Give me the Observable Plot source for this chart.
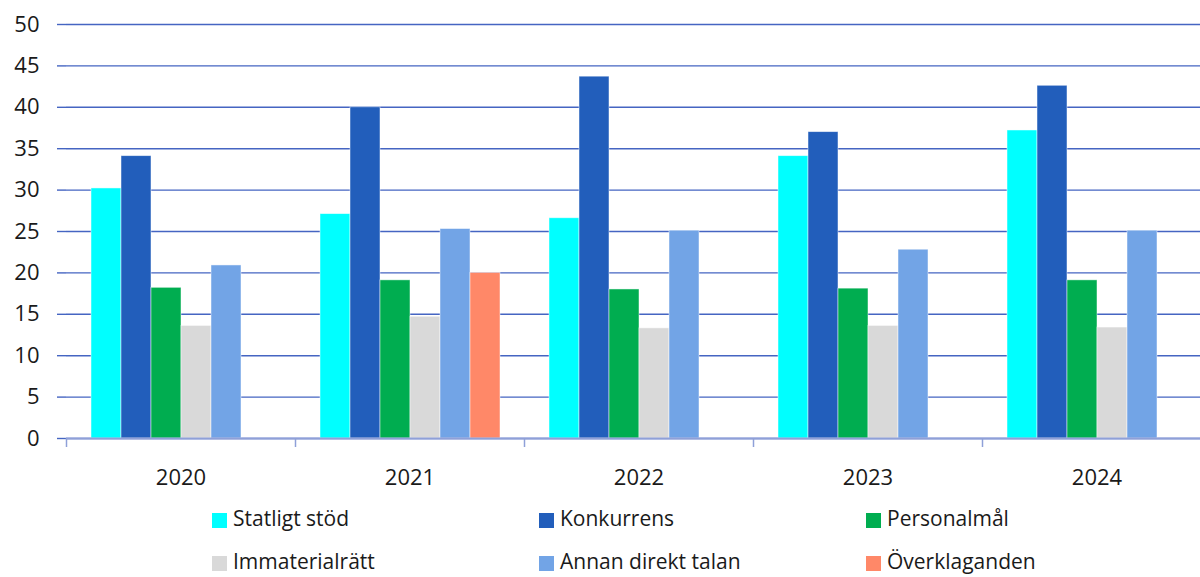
<!DOCTYPE html>
<html>
<head>
<meta charset="utf-8">
<script src="https://cdn.jsdelivr.net/npm/d3@7"></script>
<script src="https://cdn.jsdelivr.net/npm/@observablehq/plot@0.6"></script>
<style>
  html, body { margin: 0; padding: 0; background: #fff; overflow: hidden; width: 1200px; }
  #chart { position: relative; width: 1200px; height: 577px; overflow: hidden; font-family: "Open Sans", sans-serif; }
  #chart svg { max-width: none !important; display: block; }
  #legend { position: absolute; left: 0; top: 0; width: 1200px; height: 577px; pointer-events: none; }
  .item { position: absolute; font-size: 21px; line-height: 1; color: #1a1a1a; white-space: nowrap; }
  .sw { position: absolute; left: 0; top: 0; width: 15px; height: 15px; }
  .lbl { position: absolute; left: 21px; top: -5px; }
</style>
</head>
<body>
<div id="chart"><div id="legend"></div></div>
<script>
const years = [2020, 2021, 2022, 2023, 2024];
const series = ["Statligt stöd", "Konkurrens", "Personalmål", "Immaterialrätt", "Annan direkt talan", "Överklaganden"];
const colors = ["#00ffff", "#225ebb", "#00ad50", "#d9d9d9", "#72a4e6", "#ff8868"];
const statligtStod = [30.2, 27.1, 26.6, 34.1, 37.2];
const konkurrens = [34.1, 40.0, 43.7, 37.0, 42.6];
const personalmal = [18.2, 19.1, 18.0, 18.1, 19.1];
const immaterialratt = [13.6, 14.7, 13.3, 13.6, 13.4];
const annanDirektTalan = [20.9, 25.3, 25.1, 22.8, 25.1];
const overklaganden = [null, 20.0, null, null, null];
const yTicks = [0, 5, 10, 15, 20, 25, 30, 35, 40, 45, 50];

const valuesBySeries = [statligtStod, konkurrens, personalmal, immaterialratt, annanDirektTalan, overklaganden];
const data = [];
years.forEach((yr, i) => {
  series.forEach((s, j) => {
    const v = valuesBySeries[j][i];
    if (v != null) data.push({year: yr, series: s, value: v});
  });
});

const gridColor = "#4565c2";
const axisColor = "#8fa0d8";
const textColor = "#1a1a1a";
const facetW = (1211 - 66) / years.length;

const chart = Plot.plot({
  width: 1211,
  height: 495,
  marginLeft: 66,
  marginRight: 0,
  marginTop: 24,
  marginBottom: 57,
  style: {fontFamily: "Open Sans, sans-serif", fontSize: "22px", color: textColor, background: "transparent", maxWidth: "none"},
  fx: {domain: years, padding: 0, label: null},
  x: {domain: series, paddingInner: 0, paddingOuter: 0.754, axis: null},
  y: {domain: [0, 50], ticks: yTicks, label: null},
  color: {domain: series, range: colors},
  marks: [
    Plot.gridY(yTicks, {stroke: gridColor, strokeOpacity: 1, strokeWidth: 1.4}),
    Plot.axisY(yTicks, {tickSize: 9, tickPadding: 18, stroke: gridColor, strokeWidth: 1.4, fill: textColor, fontSize: 22, label: null}),
    Plot.barY(data, {fx: "year", x: "series", y: "value", fill: "series", stroke: "white", strokeWidth: 0.8, strokeOpacity: 0.6}),
    Plot.axisFx({anchor: "bottom", tickSize: 0, tickPadding: 31, fontSize: 22, fill: textColor, label: null, tickFormat: d => String(d)}),
    Plot.axisFx({anchor: "bottom", tickSize: 9, tickFormat: () => "", dx: -facetW / 2, stroke: axisColor, strokeWidth: 1.5, label: null}),
    Plot.ruleY([0], {stroke: axisColor, strokeWidth: 1.8})
  ]
});
chart.style.maxWidth = "none";
document.getElementById("chart").prepend(chart);

// legend
const legend = document.getElementById("legend");
const colX = [212, 539, 866];
const rowY = [513, 556];
series.forEach((s, i) => {
  const el = document.createElement("div");
  el.className = "item";
  el.style.left = colX[i % 3] + "px";
  el.style.top = rowY[Math.floor(i / 3)] + "px";
  el.innerHTML = `<span class="sw" style="background:${colors[i]}"></span><span class="lbl">${s}</span>`;
  legend.appendChild(el);
});
</script>
</body>
</html>
